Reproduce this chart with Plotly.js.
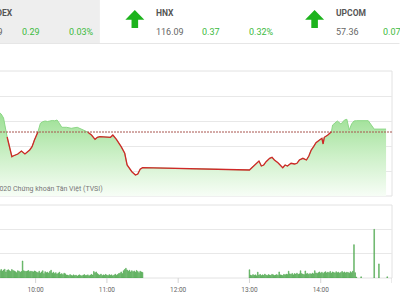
<!DOCTYPE html>
<html><head><meta charset="utf-8">
<script src="https://cdn.plot.ly/plotly-3.0.1.min.js"></script>
<style>html,body{margin:0;padding:0;background:#fff;overflow:hidden}#chart{width:400px;height:300px}</style>
</head><body><div id="chart"></div>
<script>
// ---------- data ----------
const DAY = '2020-11-05 ';
const refPrice = 903.90;
const priceTimes = ['09:30','09:31','09:33','09:34','09:36','09:38','09:40','09:41','09:45','09:48',
  '09:51','09:55','09:57','09:59','10:02','10:04','10:06','10:08','10:10','10:12',
  '10:14','10:16','10:18','10:20','10:22','10:26','10:30','10:35','10:39','10:42',
  '10:44','10:47','10:50','10:52','10:54','10:58','11:03','11:05','11:08','11:12',
  '11:15','11:17','11:21','11:24','11:26','11:28','11:30',
  '13:00','13:03','13:06','13:08','13:10','13:12','13:14','13:17','13:19','13:21',
  '13:24','13:27','13:28','13:30','13:32','13:35','13:38','13:40','13:42','13:45',
  '13:48','13:50','13:52','13:54','13:56','13:59','14:01','14:02','14:03','14:06',
  '14:09','14:10','14:14','14:17','14:20','14:22','14:24','14:26','14:28','14:30',
  '14:40','14:45','14:55'];
const priceVals = [905.80,905.70,905.30,904.50,903.40,902.40,901.43,901.50,901.70,902.00,
  901.70,902.10,902.43,903.10,903.93,904.77,904.93,905.00,904.95,905.00,
  905.05,905.02,905.10,904.77,904.37,904.37,904.27,904.37,904.20,904.00,
  903.87,903.60,903.17,903.37,903.43,903.43,903.37,903.60,903.17,902.43,
  901.77,900.60,899.93,899.60,899.70,900.17,900.33,
  900.10,900.43,900.77,901.00,900.50,900.60,900.93,901.27,901.37,901.10,
  900.83,900.43,900.33,900.60,900.50,900.77,900.70,900.77,901.10,901.27,
  901.10,901.50,902.10,902.43,902.83,903.10,903.27,902.70,903.37,903.60,
  903.93,904.60,905.00,904.70,905.10,905.17,904.10,904.70,905.00,905.03,
  905.03,904.19,904.19];
// per-minute volume (million shares)
const volAmStart = '09:30';
const volAm = [0.30,0.35,0.28,0.33,0.36,0.25,0.32,0.34,0.30,0.27,0.35,0.31,0.29,
  0.26,0.22,0.30,0.28,0.24,0.27,
  0.70,
  0.30,0.28,0.27,0.29,0.31,0.26,0.28,0.27,0.25,0.29,0.27,0.24,
  0.22,0.28,0.20,0.25,0.30,0.18,0.26,0.22,0.24,0.20,0.27,0.32,0.20,0.24,
  0.18,0.22,0.16,0.20,0.24,0.15,0.18,0.14,0.20,0.17,0.12,
  0.12,0.10,0.14,0.11,0.09,0.13,0.10,0.12,0.08,0.11,0.13,0.10,0.09,0.12,0.14,0.10,0.11,0.13,0.09,0.12,0.15,0.12,
  0.27,0.22,0.25,0.18,
  0.14,0.12,0.16,0.10,0.13,0.11,0.15,0.12,0.10,0.14,0.11,0.13,0.09,0.12,0.16,0.11,0.14,0.18,
  0.20,0.25,0.18,0.30,0.35,0.40,0.33,
  0.28,0.32,0.25,0.30,0.26,0.29,0.24,0.31,0.27,0.22,0.28,0.25,0.23];
const volPmStart = '13:00';
const volPm = [0.34,
  0.12,0.10,0.14,0.11,0.13,0.09,0.24,0.12,0.15,0.10,0.13,0.11,0.16,0.12,0.10,
  0.14,0.12,0.11,0.15,0.13,0.10,0.12,0.14,0.11,0.25,0.13,0.12,0.10,0.15,0.13,
  0.16,0.14,0.28,0.17,0.15,0.19,0.13,0.18,0.16,0.20,0.15,0.17,0.30,0.18,0.16,
  0.14,0.29,0.17,0.19,0.15,0.18,0.16,0.20,0.17,0.30,0.21,0.19,
  0.22,0.25,0.20,0.24,0.19,0.23,0.26,0.21,0.24,0.22,0.27,0.20,0.25,0.23,0.21,
  0.26,0.22,0.24,0.20,0.23,0.27,0.22,0.25,0.21,0.24,0.23,0.20,0.26,0.22,0.28,
  1.37,0.22,0.04];
const volExtraTimes = ['14:34','14:45','14:49','14:56'];
const volExtraVals = [0.05,2.00,0.58,0.05];

const indexNames = ['VN-INDEX','HNX','UPCOM'];
const indexValues = ['904.19','116.09','57.36'];
const indexChanges = ['0.29','0.37','0.07'];
const indexPcts = ['0.03%','0.32%'];
const tickTimes = ['10:00','11:00','12:00','13:00','14:00','15:00'];
const watermark = '©2020 Chứng khoán Tân Việt (TVSI)';

// ---------- helpers ----------
const W=400,H=300,ML=0,MR=7.5,MT=71,MB=22;
const PW=W-ML-MR, PH=H-MT-MB;
const px = x => (x-ML)/PW;
const py = y => (H-MB-y)/PH;
function minutesFrom(start, n){
  const [h,m]=start.split(':').map(Number); const t=h*60+m+n;
  return DAY+String(Math.floor(t/60)).padStart(2,'0')+':'+String(t%60).padStart(2,'0');
}
const priceX = priceTimes.map(t=>DAY+t);
const volX = volAm.map((_,i)=>minutesFrom(volAmStart,i))
  .concat(volPm.map((_,i)=>minutesFrom(volPmStart,i)))
  .concat(volExtraTimes.map(t=>DAY+t));
const volY = volAm.concat(volPm).concat(volExtraVals);
// red part of the line: points at or below the reference
const redY = priceVals.map(v => v <= refPrice + 0.05 ? v : null);

const pMin=897.5, pMax=910;
const upTop=71, upBot=196, loTop=205;
const xRange=[DAY+'09:30',DAY+'15:00'];

const FONT='Roboto, "Open Sans", Arial, sans-serif';
const green='#3dba3d', gray='#666', labelGray='#555';

const traces = [
  {type:'bar', x:volX, y:volY, xaxis:'x', yaxis:'y', width:36000,
   marker:{color:'#7cc97c', line:{color:'#3f9c3f', width:0.5}}, hoverinfo:'skip'},
  {type:'scatter', mode:'lines', x:priceX, y:priceVals, xaxis:'x2', yaxis:'y2',
   line:{color:'#8cd786', width:1}, fill:'tozeroy',
   fillgradient:{type:'vertical', start:pMin, stop:905.3,
     colorscale:[[0,'#f6fdf5'],[0.5,'#cdf0c8'],[1,'#a0e198']]}, hoverinfo:'skip'},
  {type:'scatter', mode:'lines', x:priceX, y:redY, xaxis:'x2', yaxis:'y2', connectgaps:false,
   line:{color:'#d02828', width:1.3}, hoverinfo:'skip'}
];

function arrowPath(cx){
  const pts=[[cx,10],[cx+9.5,19.8],[cx+3.3,19.8],[cx+3.3,28],[cx-3.3,28],[cx-3.3,19.8],[cx-9.5,19.8]];
  return 'M'+pts.map(p=>px(p[0])+','+py(p[1])).join(' L')+' Z';
}

const ann = (text,x,y,anchor,size,color)=>({text, x:px(x), y:py(y), xref:'paper', yref:'paper',
  xanchor:anchor, yanchor:'middle', showarrow:false, borderpad:0, font:{family:FONT,size,color}});

const annotations = [
  ann('<b>'+indexNames[0]+'</b>',14.5,13.3,'right',8.5,labelGray),
  ann(indexValues[0],3.8,31.5,'right',9,gray),
  ann(indexChanges[0],21.5,31.5,'left',9,green),
  ann(indexPcts[0],68,31.5,'left',9,green),
  ann('<b>'+indexNames[1]+'</b>',155.5,13.3,'left',8.5,labelGray),
  ann(indexValues[1],155.5,31.5,'left',9,gray),
  ann(indexChanges[1],201.5,31.5,'left',9,green),
  ann(indexPcts[1],248,31.5,'left',9,green),
  ann('<b>'+indexNames[2]+'</b>',335.8,13.3,'left',8.5,labelGray),
  ann(indexValues[2],335.8,31.5,'left',9,gray),
  ann(indexChanges[2],382.5,31.5,'left',9,green),
  ann(watermark,104.5,188.5,'right',7,'#777')
];

const shapes = [
  {type:'rect', xref:'paper', yref:'paper', x0:px(-5), x1:px(100), y0:py(43), y1:py(-5),
   fillcolor:'#eeeeee', line:{width:0}, layer:'below'},
  {type:'line', xref:'paper', yref:'paper', x0:px(0), x1:px(400), y0:py(43.5), y1:py(43.5),
   line:{color:'#e6e6e6', width:1}},
  {type:'path', xref:'paper', yref:'paper', path:arrowPath(135), fillcolor:'#1db31d', line:{width:0}},
  {type:'path', xref:'paper', yref:'paper', path:arrowPath(315), fillcolor:'#1db31d', line:{width:0}},
  {type:'rect', xref:'paper', yref:'paper', x0:px(-2), x1:1, y0:py(upBot), y1:1,
   line:{color:'#e2e2e2', width:1}, layer:'below'},
  {type:'rect', xref:'paper', yref:'paper', x0:px(-2), x1:1, y0:0, y1:py(loTop),
   line:{color:'#e2e2e2', width:1}, layer:'below'},
  {type:'line', xref:'paper', yref:'y2', x0:0, x1:1, y0:refPrice, y1:refPrice,
   line:{color:'#a8544f', width:1, dash:'2px,1px'}}
].concat(tickTimes.map(t=>({type:'line', xref:'x', yref:'paper', x0:DAY+t, x1:DAY+t,
   y0:0, y1:py(H-MB+5), line:{color:'#d4d4d4', width:1}})));

const layout = {
  width:W, height:H, margin:{l:ML,r:MR,t:MT,b:MB,pad:0},
  paper_bgcolor:'#ffffff', plot_bgcolor:'rgba(0,0,0,0)', showlegend:false, bargap:0,
  xaxis:{type:'date', anchor:'y', range:xRange,
    tickvals:tickTimes.map(t=>DAY+t), ticktext:tickTimes,
    ticks:'', ticklabelstandoff:6,
    tickfont:{family:FONT,size:6.5,color:'#666'},
    showgrid:false, zeroline:false, showline:false, fixedrange:true},
  xaxis2:{type:'date', anchor:'y2', range:xRange, visible:false, showgrid:false, zeroline:false, fixedrange:true},
  yaxis:{domain:[0,py(loTop)], range:[0,3], tick0:0, dtick:1, showticklabels:false,
    gridcolor:'#e8e8e8', gridwidth:1, zeroline:false, ticks:'', anchor:'x'},
  yaxis2:{domain:[py(upBot),1], range:[pMin,pMax], tick0:pMin, dtick:2.5, showticklabels:false,
    gridcolor:'#e8e8e8', gridwidth:1, zeroline:false, ticks:'', anchor:'x2'},
  annotations, shapes
};

Plotly.newPlot('chart', traces, layout, {staticPlot:true, displayModeBar:false});
</script>
</body></html>
